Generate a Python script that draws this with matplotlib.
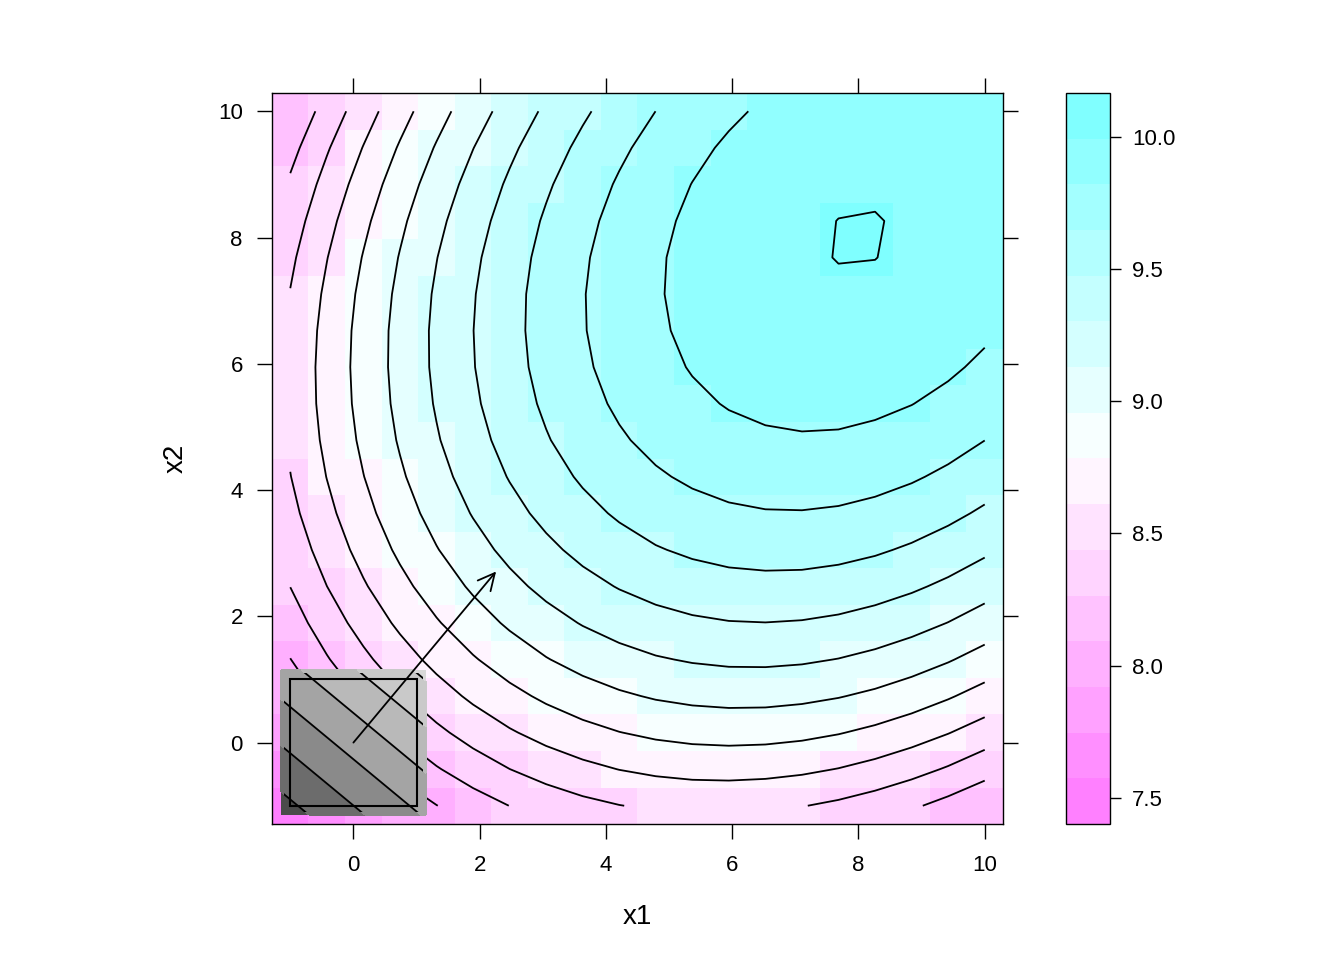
import numpy as np
import matplotlib
matplotlib.use("Agg")
import matplotlib.pyplot as plt
from matplotlib.colors import ListedColormap, BoundaryNorm, hsv_to_rgb
from matplotlib.cm import ScalarMappable
from matplotlib.patches import Rectangle

plt.rcParams['font.family'] = ['Liberation Sans', 'DejaVu Sans']

# grid of the fitted response surface (columns follow x1, rows follow x2)
x1 = [-1.0, -0.421, 0.158, 0.737, 1.316, 1.895, 2.474, 3.053, 3.632, 4.211,
      4.789, 5.368, 5.947, 6.526, 7.105, 7.684, 8.263, 8.842, 9.421, 10.0]
x2 = [-1.0, -0.421, 0.158, 0.737, 1.316, 1.895, 2.474, 3.053, 3.632, 4.211,
      4.789, 5.368, 5.947, 6.526, 7.105, 7.684, 8.263, 8.842, 9.421, 10.0]

z = [
    [7.571, 7.721, 7.857, 7.980, 8.089, 8.185, 8.267, 8.336, 8.392, 8.434, 8.463, 8.478, 8.480, 8.469, 8.444, 8.406, 8.354, 8.289, 8.211, 8.119],
    [7.721, 7.874, 8.013, 8.139, 8.252, 8.351, 8.437, 8.509, 8.568, 8.614, 8.646, 8.665, 8.670, 8.662, 8.641, 8.606, 8.558, 8.496, 8.421, 8.332],
    [7.857, 8.013, 8.156, 8.285, 8.401, 8.504, 8.593, 8.669, 8.731, 8.780, 8.816, 8.838, 8.847, 8.842, 8.824, 8.792, 8.747, 8.689, 8.617, 8.532],
    [7.980, 8.139, 8.285, 8.418, 8.537, 8.643, 8.736, 8.815, 8.881, 8.933, 8.972, 8.997, 9.009, 9.008, 8.993, 8.965, 8.924, 8.869, 8.800, 8.719],
    [8.089, 8.252, 8.401, 8.537, 8.660, 8.769, 8.865, 8.948, 9.017, 9.072, 9.115, 9.143, 9.159, 9.161, 9.150, 9.125, 9.087, 9.035, 8.970, 8.891],
    [8.185, 8.351, 8.504, 8.643, 8.769, 8.882, 8.981, 9.067, 9.139, 9.198, 9.244, 9.276, 9.295, 9.300, 9.292, 9.271, 9.236, 9.188, 9.126, 9.051],
    [8.267, 8.437, 8.593, 8.736, 8.865, 8.981, 9.084, 9.173, 9.249, 9.311, 9.360, 9.396, 9.418, 9.426, 9.422, 9.404, 9.372, 9.327, 9.269, 9.197],
    [8.336, 8.509, 8.669, 8.815, 8.948, 9.067, 9.173, 9.265, 9.345, 9.410, 9.463, 9.501, 9.527, 9.539, 9.538, 9.523, 9.495, 9.453, 9.398, 9.330],
    [8.392, 8.568, 8.731, 8.881, 9.017, 9.139, 9.249, 9.345, 9.427, 9.496, 9.552, 9.594, 9.623, 9.638, 9.640, 9.629, 9.604, 9.566, 9.514, 9.449],
    [8.434, 8.614, 8.780, 8.933, 9.072, 9.198, 9.311, 9.410, 9.496, 9.569, 9.628, 9.673, 9.705, 9.724, 9.729, 9.721, 9.700, 9.665, 9.617, 9.555],
    [8.463, 8.646, 8.816, 8.972, 9.115, 9.244, 9.360, 9.463, 9.552, 9.628, 9.690, 9.739, 9.774, 9.796, 9.805, 9.801, 9.782, 9.751, 9.706, 9.648],
    [8.478, 8.665, 8.838, 8.997, 9.143, 9.276, 9.396, 9.501, 9.594, 9.673, 9.739, 9.791, 9.830, 9.855, 9.868, 9.866, 9.851, 9.823, 9.782, 9.727],
    [8.480, 8.670, 8.847, 9.009, 9.159, 9.295, 9.418, 9.527, 9.623, 9.705, 9.774, 9.830, 9.872, 9.901, 9.916, 9.918, 9.907, 9.882, 9.844, 9.792],
    [8.469, 8.662, 8.842, 9.008, 9.161, 9.300, 9.426, 9.539, 9.638, 9.724, 9.796, 9.855, 9.901, 9.933, 9.952, 9.957, 9.949, 9.928, 9.893, 9.845],
    [8.444, 8.641, 8.824, 8.993, 9.150, 9.292, 9.422, 9.538, 9.640, 9.729, 9.805, 9.868, 9.916, 9.952, 9.974, 9.983, 9.978, 9.960, 9.929, 9.884],
    [8.406, 8.606, 8.792, 8.965, 9.125, 9.271, 9.404, 9.523, 9.629, 9.721, 9.801, 9.866, 9.918, 9.957, 9.983, 9.995, 9.994, 9.979, 9.951, 9.909],
    [8.354, 8.558, 8.747, 8.924, 9.087, 9.236, 9.372, 9.495, 9.604, 9.700, 9.782, 9.851, 9.907, 9.949, 9.978, 9.994, 9.996, 9.984, 9.959, 9.921],
    [8.289, 8.496, 8.689, 8.869, 9.035, 9.188, 9.327, 9.453, 9.566, 9.665, 9.751, 9.823, 9.882, 9.928, 9.960, 9.979, 9.984, 9.976, 9.955, 9.920],
    [8.211, 8.421, 8.617, 8.800, 8.970, 9.126, 9.269, 9.398, 9.514, 9.617, 9.706, 9.782, 9.844, 9.893, 9.929, 9.951, 9.959, 9.955, 9.937, 9.905],
    [8.119, 8.332, 8.532, 8.719, 8.891, 9.051, 9.197, 9.330, 9.449, 9.555, 9.648, 9.727, 9.792, 9.845, 9.884, 9.909, 9.921, 9.920, 9.905, 9.877],
]

# first-order inset (design region), corner values of the plane
inset_edge = [-1.15, 1.15]
inset_w = [[-0.51, 2.09],
           [2.63, 5.23]]
inset_levels = [-1, 0, 1, 2, 3, 4, 5, 6]
inset_grays = ['#4b4b4b', '#6c6c6c', '#8a8a8a', '#a4a4a4', '#b9b9b9', '#c9c9c9', '#d8d8d8']

# steepest ascent arrow
arrow_start = (0.0, 0.0)
arrow_end = (2.26, 2.71)

zz = np.array(z)

# lattice-style breaks: range padded by 7%, 16 equal intervals
zr = zz.max() - zz.min()
at = np.linspace(zz.min() - 0.07 * zr, zz.max() + 0.07 * zr, 17)

# reversed cm.colors(100), sampled as lattice does
pal = [hsv_to_rgb((10 / 12, s, 1)) for s in np.linspace(0.5, 0.01, 50)] + \
      [hsv_to_rgb((6 / 12, s, 1)) for s in np.linspace(0.01, 0.5, 50)]
idx = np.floor(np.linspace(1, 100, 16)).astype(int) - 1
cmap = ListedColormap([pal[i] for i in idx])
norm = BoundaryNorm(at, cmap.N)

fig = plt.figure(figsize=(13.44, 9.6), dpi=100)
ax = fig.add_axes([272 / 1344, 1 - 824 / 960, 731 / 1344, 731 / 960])

h = (x1[1] - x1[0]) / 2
lim = (x1[0] - h, x1[-1] + h)
ax.imshow(zz, origin='lower', extent=(lim[0], lim[1], lim[0], lim[1]),
          cmap=cmap, norm=norm, interpolation='nearest', aspect='auto', zorder=1)
ax.contour(x1, x2, zz, levels=at, colors='black', linewidths=1.3, zorder=2)

# inset
ax.contourf(inset_edge, inset_edge, inset_w, levels=inset_levels,
            colors=inset_grays, zorder=3)
cs = ax.contour(inset_edge, inset_edge, inset_w, levels=inset_levels[1:-1],
                colors='black', linewidths=1.3, zorder=4)
cs.set_clip_path(Rectangle((-1.1, -1.1), 2.2, 2.2, transform=ax.transData))
ax.add_patch(Rectangle((-1, -1), 2, 2, fill=False, ec='black', lw=1.5, zorder=5))
ax.annotate('', xy=arrow_end, xytext=arrow_start,
            arrowprops=dict(arrowstyle='->,head_length=0.6,head_width=0.3',
                            color='black', lw=1.3, shrinkA=0, shrinkB=0,
                            mutation_scale=20), zorder=6)

ax.set_xlim(lim)
ax.set_ylim(lim)
ax.set_xticks([0, 2, 4, 6, 8, 10])
ax.set_yticks([0, 2, 4, 6, 8, 10])
ax.tick_params(direction='out', length=11, width=1, top=True, right=True,
               labeltop=False, labelright=False, labelsize=16)
ax.tick_params(axis='x', pad=11)
ax.tick_params(axis='y', pad=10)
for sp in ax.spines.values():
    sp.set_linewidth(1)

fig.text(637.5 / 1344, 1 - 917 / 960, 'x1', ha='center', va='center', fontsize=20)
fig.text(176 / 1344, 1 - 458 / 960, 'x2', ha='center', va='center',
         rotation=90, fontsize=20)

# colour key
cax = fig.add_axes([1066 / 1344, 1 - 824 / 960, 44 / 1344, 731 / 960])
sm = ScalarMappable(norm=norm, cmap=cmap)
cb = fig.colorbar(sm, cax=cax, boundaries=at, ticks=[7.5, 8.0, 8.5, 9.0, 9.5, 10.0],
                  format='%.1f')
cb.outline.set_linewidth(1)
cb.minorticks_off()
cax.tick_params(which='minor', length=0)
cax.tick_params(direction='out', length=8, width=1, labelsize=16, pad=8)

fig.savefig('out.png', dpi=100)
